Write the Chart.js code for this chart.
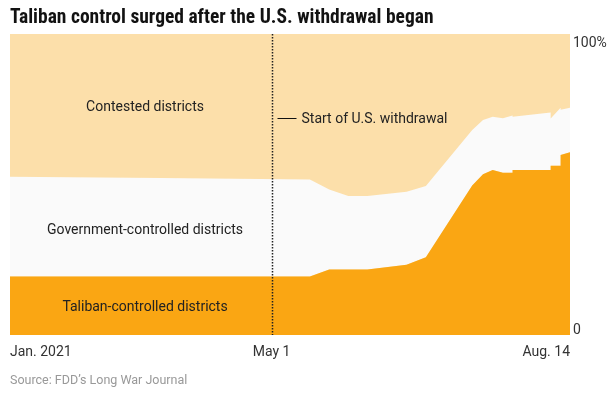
<!DOCTYPE html>
<html>
<head>
<meta charset="utf-8">
<script src="https://cdn.jsdelivr.net/npm/chart.js@4.4.1/dist/chart.umd.min.js"></script>
<style>
  html, body { margin: 0; padding: 0; background: #fff; }
  #wrap { position: relative; width: 615px; height: 393px; }
</style>
</head>
<body>
<div id="wrap"><canvas id="c" width="615" height="393"></canvas></div>
<script>
// x values: day of year 2021 (Jan 1 = 0)
const days = [28, 81, 133.5, 140.3, 147, 153.7, 167.5, 174.3, 190.6, 194.4, 197.8, 201.4, 204.8, 204.8, 218.2, 218.2, 221.7, 221.7, 225];
// percent of districts
const taliban    = [19.4, 19.4, 19.4, 21.8, 21.8, 21.8, 23.3, 25.8, 49.7, 53.4, 54.8, 53.9, 53.9, 54.8, 54.8, 56.2, 56.2, 59.8, 60.7];
const government = [33.2, 32.8, 32.3, 26.5, 24.4, 24.4, 24.3, 23.7, 18.4, 18.0, 17.7, 18.1, 18.1, 17.7, 17.7, 15.7, 15.7, 15.0, 14.8];
const contested  = [47.4, 47.8, 48.3, 51.7, 53.8, 53.8, 52.4, 50.5, 31.9, 28.6, 27.5, 28.0, 28.0, 27.5, 27.5, 28.1, 28.1, 25.2, 24.5];

const seriesNames = ["Taliban-controlled districts", "Government-controlled districts", "Contested districts"];
const seriesColors = ['#faa613', '#fafafa', '#fcdfaa'];
const xTickValues = [28, 120, 225];
const xTickLabels = ["Jan. 2021", "May 1", "Aug. 14"];
const yTickValues = [100, 0];
const yTickLabels = ["100%", "0"];
const withdrawalDay = 120;
const withdrawalLabel = "Start of U.S. withdrawal";
const titleText = "Taliban control surged after the U.S. withdrawal began";
const sourceText = "Source: FDD\u2019s Long War Journal";

const toPts = arr => arr.map((v, i) => ({ x: days[i], y: v }));

const FONT = "Roboto, 'Noto Sans', sans-serif";

const bg = {
  id: 'bg',
  beforeDatasetsDraw(chart) {
    const { ctx, chartArea: a } = chart;
    ctx.save();
    ctx.fillStyle = seriesColors[2];
    ctx.fillRect(a.left, a.top, a.right - a.left, a.bottom - a.top);
    ctx.restore();
  }
};

const overlay = {
  id: 'overlay',
  afterDatasetsDraw(chart) {
    const { ctx, chartArea: a, scales: { x, y } } = chart;
    ctx.save();
    // dotted withdrawal line
    const wx = Math.round(x.getPixelForValue(withdrawalDay)) + 0.5;
    ctx.strokeStyle = '#222';
    ctx.lineWidth = 1.5;
    ctx.setLineDash([1.5, 1.5]);
    ctx.beginPath();
    ctx.moveTo(wx, a.top);
    ctx.lineTo(wx, a.bottom);
    ctx.stroke();
    ctx.setLineDash([]);

    // annotation
    const ay = Math.round(y.getPixelForValue(72)) + 0.5;
    ctx.lineWidth = 1;
    ctx.strokeStyle = '#111';
    ctx.beginPath();
    ctx.moveTo(wx + 5, ay);
    ctx.lineTo(wx + 24, ay);
    ctx.stroke();
    ctx.fillStyle = '#222';
    ctx.font = "14px " + FONT;
    ctx.textBaseline = 'middle';
    ctx.textAlign = 'left';
    ctx.fillText(withdrawalLabel, wx + 29, ay + 1);

    // series labels
    ctx.textAlign = 'center';
    const lx = x.getPixelForValue(75.5);
    ctx.fillText(seriesNames[2], lx, y.getPixelForValue(75.7));
    ctx.fillText(seriesNames[1], lx, y.getPixelForValue(34.8));
    ctx.fillText(seriesNames[0], lx, y.getPixelForValue(9));

    // y tick labels (right side)
    ctx.textAlign = 'left';
    ctx.fillStyle = '#333';
    ctx.font = "14px " + FONT;
    yTickValues.forEach((v, i) => {
      const py = y.getPixelForValue(v) + (v === 100 ? 9 : -5);
      ctx.fillText(yTickLabels[i], a.right + 3, py);
    });

    // x tick labels
    xTickValues.forEach((v, i) => {
      const px = x.getPixelForValue(v);
      ctx.textAlign = i === 0 ? 'left' : (i === xTickValues.length - 1 ? 'right' : 'center');
      ctx.fillText(xTickLabels[i], px, a.bottom + 17);
    });

    // title
    ctx.textAlign = 'left';
    ctx.fillStyle = '#121212';
    ctx.font = "bold 19.5px 'Liberation Sans Narrow', 'Roboto Condensed', 'Arial Narrow', sans-serif";
    ctx.fillText(titleText, 10, 18);

    // source
    ctx.fillStyle = '#999';
    ctx.font = "12.5px " + FONT;
    ctx.fillText(sourceText, 10, 381);
    ctx.restore();
  }
};

new Chart(document.getElementById('c'), {
  type: 'line',
  data: {
    datasets: [
      { label: seriesNames[0], data: toPts(taliban), backgroundColor: seriesColors[0], fill: 'origin' },
      { label: seriesNames[1], data: toPts(government), backgroundColor: seriesColors[1], fill: '-1' },
      { label: seriesNames[2], data: toPts(contested), backgroundColor: seriesColors[2], fill: '-1' }
    ]
  },
  options: {
    responsive: false,
    animation: false,
    devicePixelRatio: 1,
    layout: { padding: { left: 10, right: 45, top: 34, bottom: 58 } },
    elements: { line: { borderWidth: 0, tension: 0 }, point: { radius: 0 } },
    plugins: { legend: { display: false }, tooltip: { enabled: false } },
    scales: {
      x: { type: 'linear', min: 28, max: 225, display: false },
      y: { stacked: true, min: 0, max: 100, display: false }
    }
  },
  plugins: [bg, overlay]
});
</script>
</body>
</html>
